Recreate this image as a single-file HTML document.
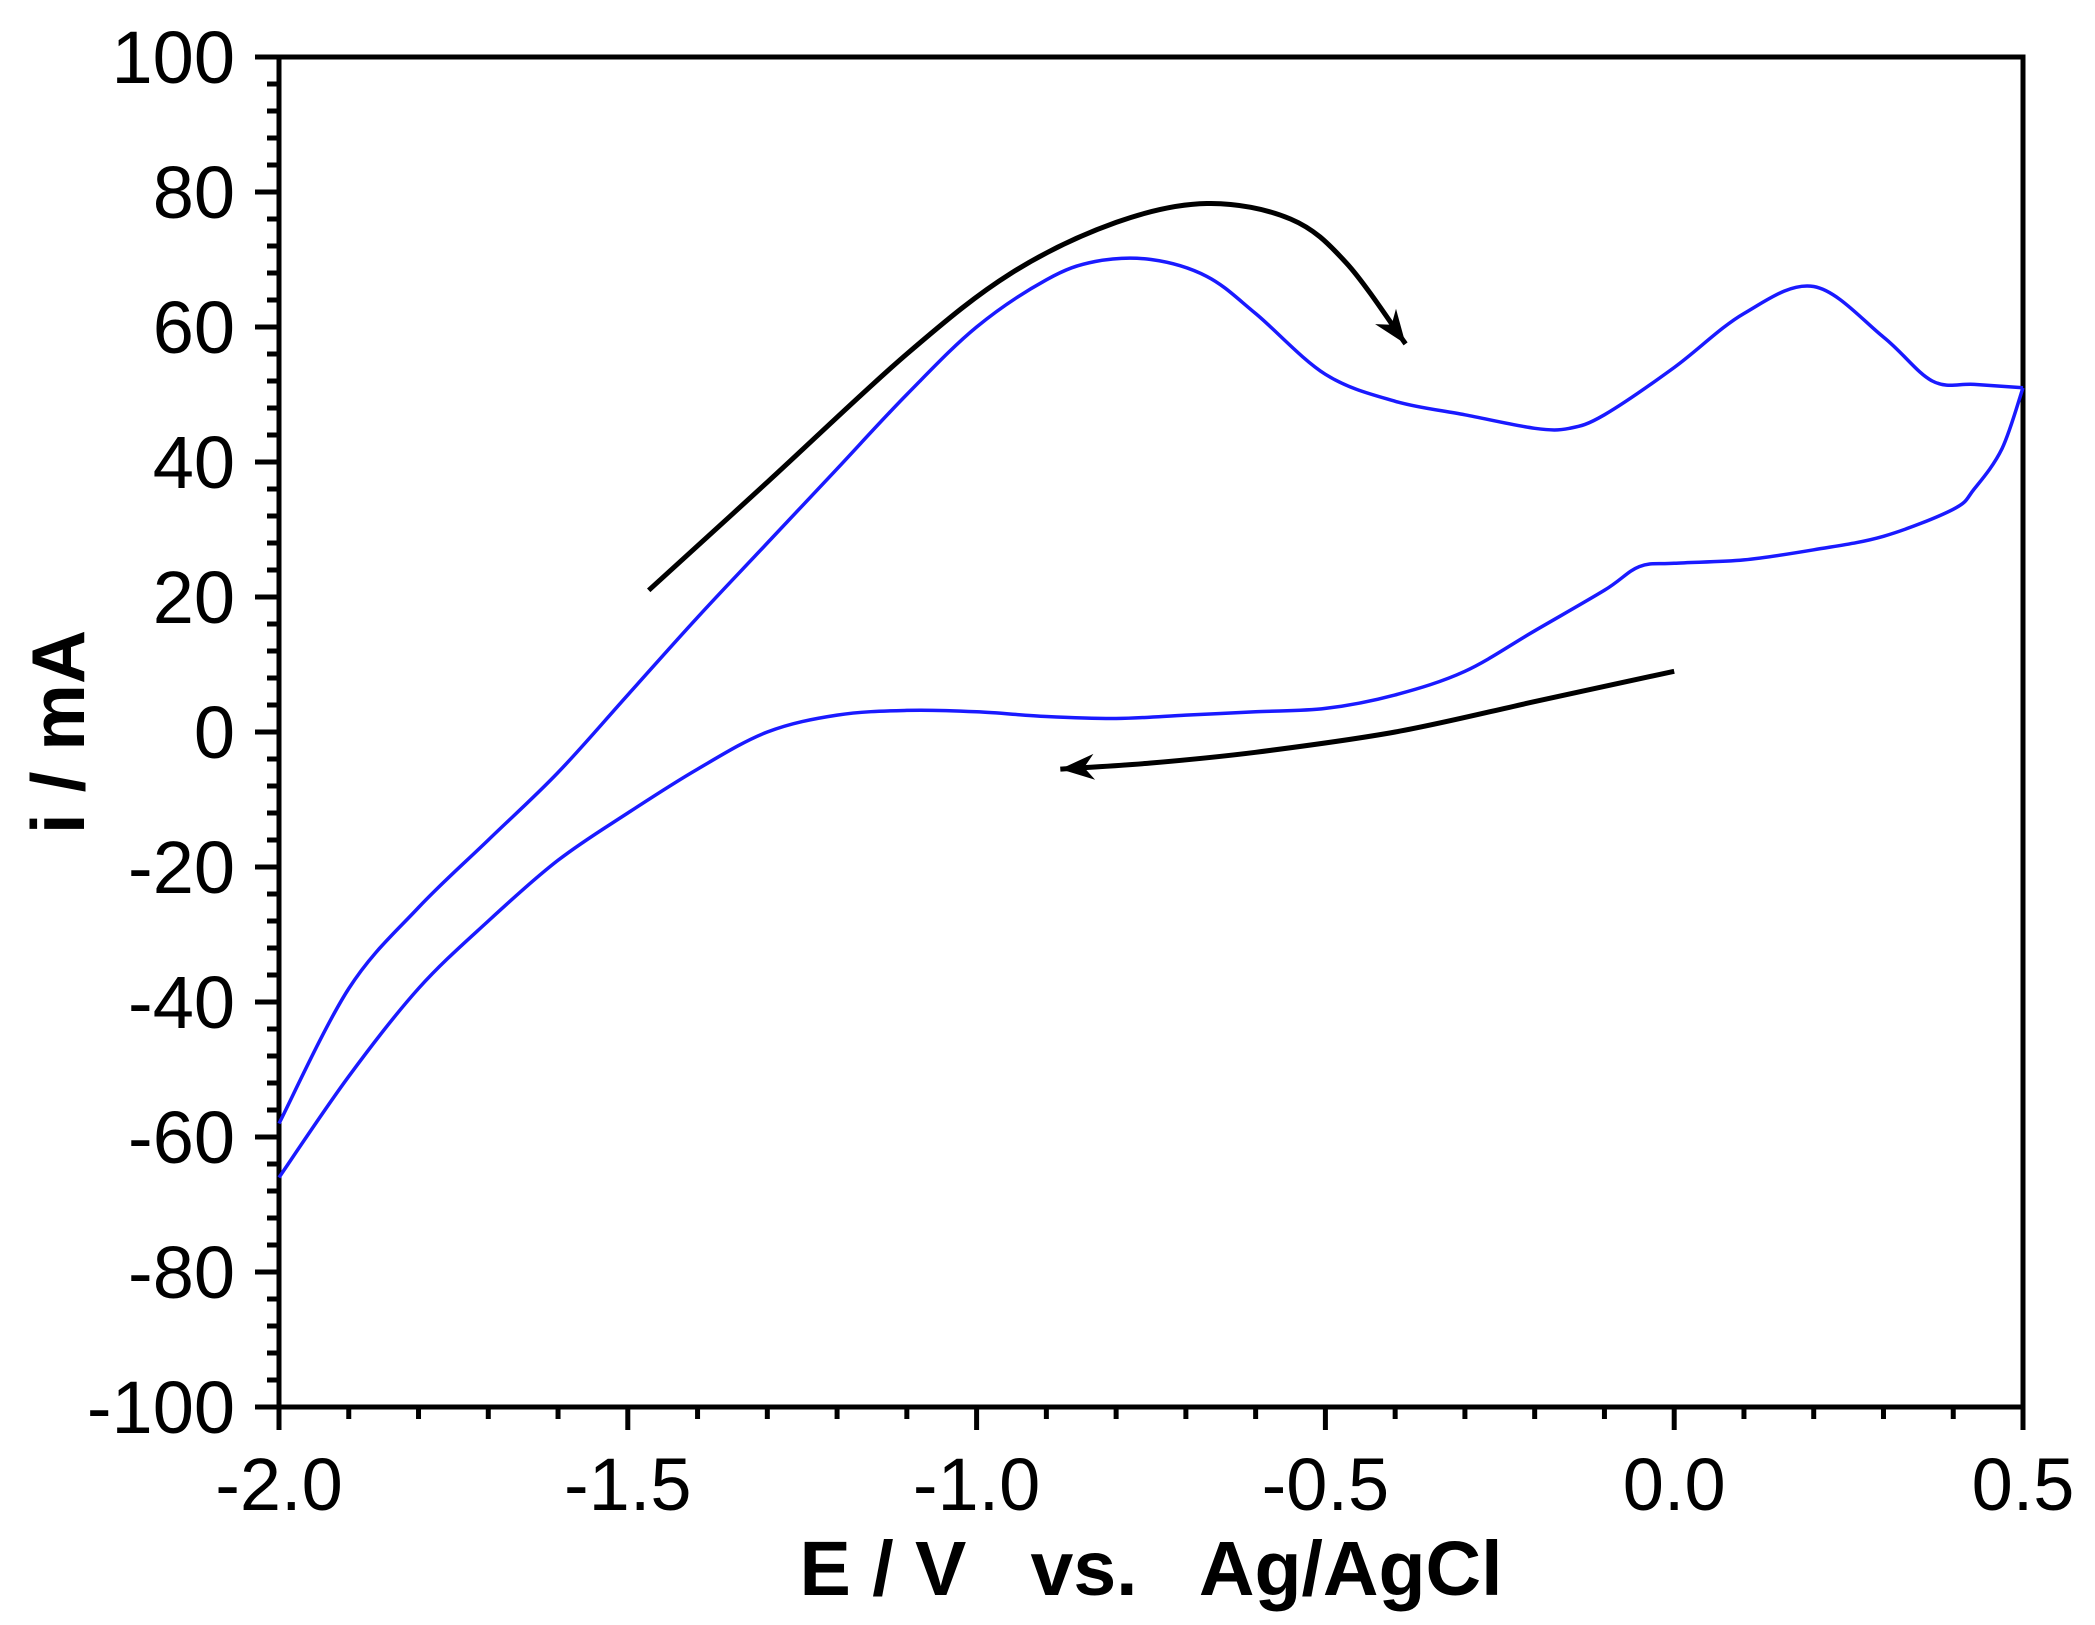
<!DOCTYPE html>
<html><head><meta charset="utf-8"><style>
html,body{margin:0;padding:0;background:#fff;}
svg{display:block;}
text{font-family:"Liberation Sans",Arial,sans-serif;fill:#000;}
</style></head><body>
<svg id="chart" width="2095" height="1625" viewBox="0 0 2095 1625" xmlns="http://www.w3.org/2000/svg">
<g id="axes"></g>
<g id="series"></g>
<text x="1151" y="1595" text-anchor="middle" font-size="77" font-weight="bold" xml:space="preserve">E / V   vs.   Ag/AgCl</text>
<text transform="translate(84,732) rotate(-90)" text-anchor="middle" font-size="75" font-weight="bold">i / mA</text>
</svg>
<script>
const xTicks=[-2.0,-1.5,-1.0,-0.5,0.0,0.5];
const xTickLabels=["-2.0","-1.5","-1.0","-0.5","0.0","0.5"];
const yTicks=[-100,-80,-60,-40,-20,0,20,40,60,80,100];
const yTickLabels=["-100","-80","-60","-40","-20","0","20","40","60","80","100"];
const forwardE=[-2.0,-1.9,-1.8,-1.7,-1.6,-1.5,-1.4,-1.3,-1.2,-1.1,-1.0,-0.9,-0.83,-0.75,-0.67,-0.6,-0.5,-0.4,-0.3,-0.2,-0.15,-0.1,0.0,0.1,0.2,0.3,0.37,0.43,0.5];
const forwardI=[-58,-38,-26,-16,-6,5.5,17,28,39,50,60,67,69.7,70,67.5,62,53,49,47,45,45,47,54,62,66,58.5,52,51.5,51];
const reverseE=[0.5,0.47,0.43,0.4,0.3,0.2,0.1,0.0,-0.05,-0.1,-0.2,-0.3,-0.4,-0.5,-0.6,-0.7,-0.8,-0.9,-1.0,-1.1,-1.2,-1.3,-1.4,-1.5,-1.6,-1.7,-1.8,-1.9,-2.0];
const reverseI=[51,42,36,33,29,27,25.5,25,24.5,21,15,9,5.5,3.5,3,2.5,2,2.3,3,3.2,2.5,0,-5.5,-12,-19,-28,-38,-51,-66];
const arrow1E=[-1.47,-1.3,-1.1,-0.95,-0.8,-0.67,-0.55,-0.47,-0.385];
const arrow1I=[21,37,56,68,75.5,78.3,76,69.5,57.5];
const arrow2E=[0.0,-0.2,-0.4,-0.6,-0.75,-0.88];
const arrow2I=[9,4.5,0,-3,-4.6,-5.5];

const L=279,R=2023,T=57,B=1407;
const sx=v=>L+(v+2)/2.5*(R-L);
const sy=v=>B-(v+100)/200*(B-T);
const NS="http://www.w3.org/2000/svg";
const axes=document.getElementById('axes');
const series=document.getElementById('series');
function mk(tag,attrs,parent){const e=document.createElementNS(NS,tag);for(const k in attrs)e.setAttribute(k,attrs[k]);parent.appendChild(e);return e;}
function smooth(xs,ys){
  const p=xs.map((x,i)=>[sx(x),sy(ys[i])]);
  let d='M'+p[0][0].toFixed(1)+','+p[0][1].toFixed(1);
  for(let i=0;i<p.length-1;i++){
    const p0=p[i-1]||p[i],p1=p[i],p2=p[i+1],p3=p[i+2]||p[i+1];
    const c1=[p1[0]+(p2[0]-p0[0])/6,p1[1]+(p2[1]-p0[1])/6];
    const c2=[p2[0]-(p3[0]-p1[0])/6,p2[1]-(p3[1]-p1[1])/6];
    d+=' C'+c1.map(v=>v.toFixed(1))+' '+c2.map(v=>v.toFixed(1))+' '+p2.map(v=>v.toFixed(1));
  }
  return d;
}
const frame=mk('rect',{x:L,y:T,width:R-L,height:B-T,fill:'none',stroke:'#000','stroke-width':5},axes);


for(let k=0;k<=25;k++){
  const v=-2+k*0.1;const major=k%5===0;
  const t=mk('line',{x1:sx(v),x2:sx(v),y1:B,y2:B+(major?23:12),stroke:'#000','stroke-width':5},axes);
  
  
}
xTicks.forEach((v,i)=>{
  const t=mk('text',{x:sx(v),y:1510,'text-anchor':'middle','font-size':74},axes);
  t.textContent=xTickLabels[i];
  
  
});
for(let k=0;k<=50;k++){
  const v=-100+k*4;const major=k%5===0;
  const t=mk('line',{x1:L-(major?24:12),x2:L,y1:sy(v),y2:sy(v),stroke:'#000','stroke-width':5},axes);
  
  
}
yTicks.forEach((v,i)=>{
  const t=mk('text',{x:235,y:sy(v)+26,'text-anchor':'end','font-size':74},axes);
  t.textContent=yTickLabels[i];
  
  
});
const f=mk('path',{d:smooth(forwardE,forwardI),fill:'none',stroke:'#1a1aff','stroke-width':3.5},series);


const r=mk('path',{d:smooth(reverseE,reverseI),fill:'none',stroke:'#1a1aff','stroke-width':3.5},series);


function arrow(xs,ys,name){
  const a=mk('path',{d:smooth(xs,ys),fill:'none',stroke:'#000','stroke-width':5},series);
  
  
  const n=xs.length;
  const x2=sx(xs[n-1]),y2=sy(ys[n-1]),x1=sx(xs[n-2]),y1=sy(ys[n-2]);
  const ang=Math.atan2(y2-y1,x2-x1);
  const len=34,w=13;
  const bx=x2-len*Math.cos(ang),by=y2-len*Math.sin(ang);
  const pts=[[x2,y2],[bx+w*Math.sin(ang),by-w*Math.cos(ang)],[bx+len*0.3*Math.cos(ang),by+len*0.3*Math.sin(ang)],[bx-w*Math.sin(ang),by+w*Math.cos(ang)]];
  const h=mk('polygon',{points:pts.map(p=>p.map(v=>v.toFixed(1)).join(',')).join(' '),fill:'#000'},series);
  
  
}
arrow(arrow1E,arrow1I,'forward-direction-arrow');
arrow(arrow2E,arrow2I,'reverse-direction-arrow');
</script>
</body></html>
